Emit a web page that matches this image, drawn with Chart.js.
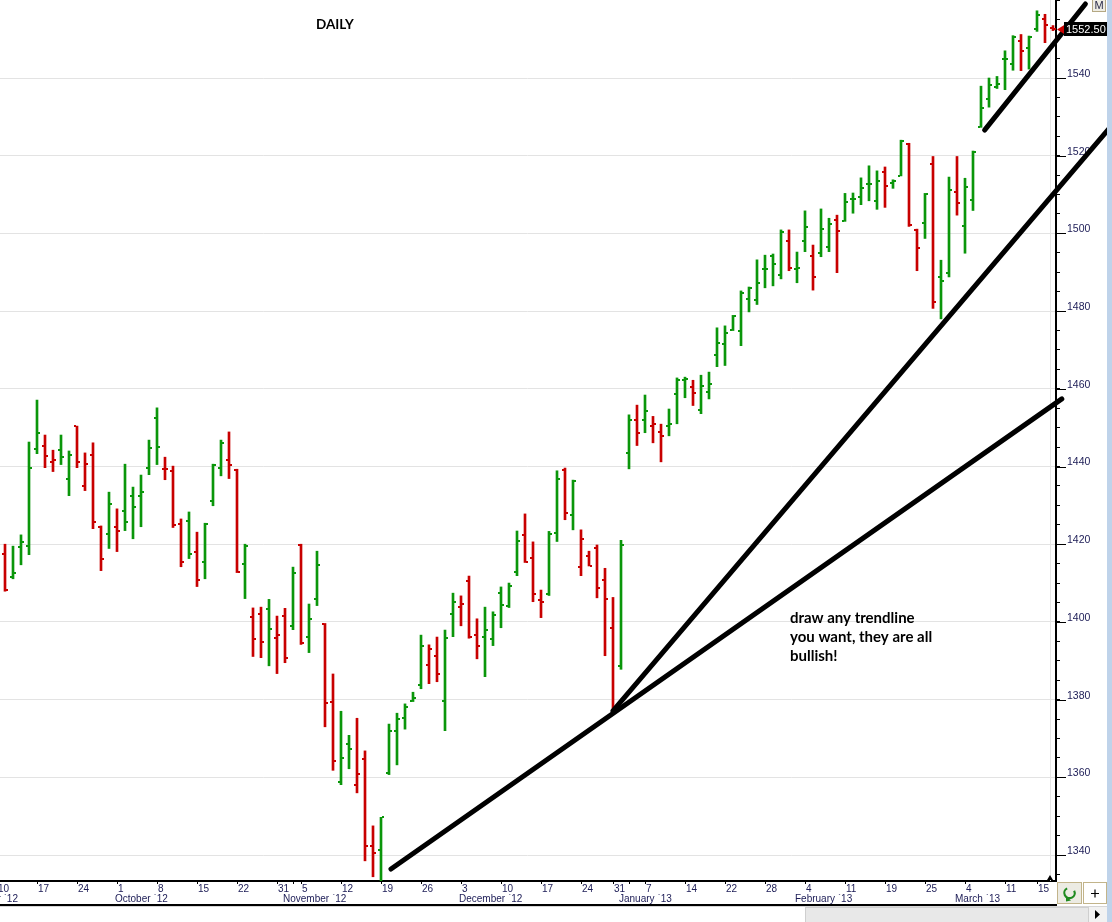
<!DOCTYPE html>
<html>
<head>
<meta charset="utf-8">
<script src="https://cdn.jsdelivr.net/npm/chart.js@4.4.1/dist/chart.umd.min.js"></script>
<style>
html,body{margin:0;padding:0;background:#fff;overflow:hidden}
#wrap{position:relative;width:1112px;height:922px}
</style>
</head>
<body>
<div id="wrap"><canvas id="c"></canvas></div>
<script>
// ---- Daily OHLC data (trading-day index 0 = first bar) ----
const opens = [1417.5,1411.6,1419.4,1419.6,1444.6,1445.4,1441.2,1444.2,1436.9,1450.3,
1435.1,1443.0,1424.4,1422.7,1424.5,1428.6,1432.4,1432.4,1439.7,1452.6,
1439.4,1438.9,1425.3,1426.1,1418.1,1415.5,1431.0,1439.7,1441.8,1439.2,
1415.0,1401.3,1402.1,1403.4,1395.9,1401.6,1399.0,1419.9,1396.2,1406.0,
1399.5,1379.4,1358.9,1368.6,1358.1,1364.8,1342.4,1341.4,1361.2,1371.9,
1375.3,1379.6,1383.8,1388.9,1391.2,1379.7,1402.0,1403.9,1410.6,1396.6,
1396.0,1395.7,1407.5,1404.0,1412.9,1422.4,1416.5,1405.7,1407.2,1423.0,
1439.2,1427.5,1414.2,1416.9,1419.1,1410.9,1398.5,1388.7,1443.6,1451.9,
1451.9,1450.3,1449.0,1450.3,1458.7,1462.2,1460.5,1454.6,1459.3,1468.8,
1471.6,1475.1,1475.0,1483.0,1482.9,1490.8,1494.2,1489.4,1498.1,1490.8,
1498.1,1494.3,1495.0,1496.6,1503.4,1503.3,1508.9,1509.3,1512.6,1508.3,
1515.7,1513.1,1514.8,1522.9,1500.9,1502.8,1517.8,1488.7,1489.8,1510.6,
1502.0,1508.7,1527.5,1534.7,1537.6,1544.8,1543.5,1549.4,1547.7,1552.6,
1555.1,1553.0];
const highs = [1420.0,1419.5,1422.4,1446.3,1457.1,1448.1,1444.2,1448.1,1444.0,1450.4,
1443.5,1446.1,1424.7,1433.4,1429.1,1440.6,1434.7,1437.8,1446.8,1455.1,
1442.4,1440.1,1426.5,1428.3,1423.1,1425.4,1440.6,1446.8,1448.9,1439.3,
1420.0,1403.6,1403.8,1405.8,1401.5,1403.5,1414.1,1420.0,1404.6,1418.2,
1399.6,1386.6,1377.0,1370.8,1375.2,1366.8,1347.5,1349.7,1373.7,1376.5,
1378.9,1381.9,1396.6,1394.1,1396.1,1397.9,1407.4,1406.7,1411.8,1400.8,
1403.8,1402.6,1409.0,1410.0,1423.4,1427.8,1420.6,1408.2,1423.3,1438.9,
1439.6,1436.5,1423.7,1418.2,1419.8,1413.8,1406.3,1421.0,1453.3,1455.8,
1458.4,1452.9,1450.9,1454.8,1462.8,1463.0,1462.2,1463.5,1464.3,1475.7,
1476.2,1478.9,1485.2,1486.2,1493.2,1494.4,1494.7,1500.9,1500.9,1495.2,
1505.8,1497.0,1506.3,1503.9,1504.7,1510.3,1510.4,1514.3,1517.4,1516.1,
1517.1,1513.8,1524.0,1523.2,1501.1,1510.3,1519.8,1493.1,1514.5,1519.8,
1514.2,1521.2,1537.9,1540.0,1540.4,1547.0,1550.9,1551.2,1550.8,1557.3,
1556.4,1553.5];
const lows = [1407.9,1411.1,1414.7,1417.3,1443.3,1439.7,1438.7,1440.5,1432.5,1439.7,
1433.8,1424.0,1413.2,1418.9,1418.1,1423.5,1421.4,1424.5,1437.9,1440.5,
1436.6,1424.3,1414.2,1416.3,1409.1,1411.1,1429.9,1437.6,1436.9,1412.7,
1406.0,1391.1,1390.8,1388.7,1386.7,1389.5,1398.0,1394.2,1392.1,1404.2,
1373.0,1361.8,1358.1,1362.2,1356.0,1338.5,1334.4,1332.0,1360.7,1363.2,
1372.4,1379.5,1382.8,1384.1,1384.6,1372.0,1396.2,1399.0,1395.8,1390.5,
1385.9,1393.9,1398.5,1403.7,1411.9,1415.3,1405.2,1401.1,1406.8,1420.7,
1426.3,1423.7,1411.9,1414.4,1406.2,1391.3,1377.3,1387.8,1439.4,1445.4,
1448.7,1446.1,1441.2,1447.9,1451.0,1457.7,1455.7,1453.6,1457.4,1465.7,
1466.0,1475.0,1471.1,1479.8,1481.7,1486.0,1486.5,1488.3,1490.4,1487.3,
1495.3,1485.4,1494.0,1495.3,1489.9,1503.1,1505.2,1507.4,1508.4,1506.2,
1506.7,1511.6,1514.8,1501.8,1490.4,1498.7,1480.7,1478.0,1488.8,1504.7,
1494.9,1505.9,1527.3,1532.5,1537.3,1537.0,1542.0,1541.9,1542.3,1552.0,
1549.1,1552.2];
const closes = [1408.2,1412.7,1420.6,1439.7,1448.5,1442.8,1441.8,1442.5,1443.0,1441.1,
1440.7,1425.8,1416.3,1430.4,1423.5,1425.8,1429.7,1433.5,1444.8,1444.9,
1439.3,1425.0,1415.3,1417.6,1410.9,1425.3,1440.3,1446.1,1440.4,1412.8,
1419.6,1395.5,1394.9,1398.1,1396.7,1390.8,1412.7,1394.6,1400.8,1414.7,
1379.0,1364.2,1365.0,1367.3,1360.9,1342.4,1340.5,1349.7,1372.0,1374.9,
1378.2,1380.5,1393.8,1392.9,1386.7,1395.9,1405.2,1404.6,1396.0,1393.8,
1397.8,1401.9,1404.4,1409.3,1420.9,1415.5,1407.3,1405.0,1422.7,1436.9,
1428.1,1436.2,1421.4,1414.5,1408.8,1406.0,1377.9,1419.8,1452.1,1448.7,
1454.2,1451.0,1447.9,1451.0,1462.2,1462.4,1459.0,1460.8,1461.2,1471.9,
1474.4,1478.7,1484.7,1486.0,1487.3,1490.8,1492.2,1500.4,1491.1,1491.2,
1501.7,1488.8,1501.2,1502.3,1500.6,1508.2,1508.9,1511.8,1512.6,1513.5,
1512.3,1513.6,1523.7,1502.1,1496.3,1510.2,1482.4,1487.8,1511.2,1507.8,
1512.0,1521.0,1532.4,1538.3,1538.5,1544.8,1550.6,1547.0,1550.5,1556.1,
1553.7,1552.5];

// ---- Axis labels ----
const dayTickIndex  = [-1,4,9,14,19,24,29,34,36,37,42,47,52,57,62,67,72,76,78,80,85,90,95,100,105,110,115,120,125,129];
const dayTickLabels = ['10','17','24','1','8','15','22','31','','5','12','19','26','3','10','17','24','31','','7','14','22','28','4','11','19','25','4','11','15'];
const monthIndex  = [-6.4,14,35,57,77,99,119];
const monthLabels = ['September `12','October `12','November `12','December `12','January `13','February `13','March `13'];
const priceLabels = [1340,1360,1380,1400,1420,1440,1460,1480,1500,1520,1540];
const lastPrice = 1552.50;
const titleText = 'DAILY';
const noteLines = ['draw any trendline','you want, they are all','bullish!'];

// ---- Hand-drawn trendlines (index, price) ----
const trendLow   = [{x:48.25,y:1336.4},{x:132.1,y:1457.4}];
const trendSteep = [{x:76.0,y:1377.1},{x:140.0,y:1531.8}];
const trendTop   = [{x:122.45,y:1526.6},{x:135.05,y:1559.05}];

// ---- ranges / styles ----
const X_MIN = -0.625, X_MAX = 131.375;
const Y_MIN = 1333.31, Y_MAX = 1560.08;
const GREEN = '#0a960a', RED = '#c80000';
const LABEL = '#1b1b55';
const FONT = "'Liberation Sans', Arial, sans-serif";

const barColors = closes.map((c,i) => (i === 0 ? c < opens[0] : c < closes[i-1]) ? RED : GREEN);

function tickImg(color, left){
  const cv = document.createElement('canvas');
  cv.width = 6; cv.height = 2;
  const g = cv.getContext('2d');
  g.fillStyle = color;
  g.fillRect(left ? 0 : 4, 0, 2, 2);
  return cv;
}
const imgs = {
  oG: tickImg(GREEN, true), oR: tickImg(RED, true),
  cG: tickImg(GREEN, false), cR: tickImg(RED, false)
};

const deco = {
  id: 'deco',
  beforeDraw(chart){
    const ctx = chart.ctx;
    ctx.save(); ctx.fillStyle = '#fff'; ctx.fillRect(0,0,chart.width,chart.height); ctx.restore();
  },
  beforeDatasetsDraw(chart){
    const ctx = chart.ctx, ca = chart.chartArea;
    ctx.save();
    ctx.strokeStyle = '#e6e6e6'; ctx.lineWidth = 1;
    ctx.beginPath(); ctx.moveTo(ca.right - 5.5, 0); ctx.lineTo(ca.right - 5.5, ca.bottom); ctx.stroke();
    ctx.restore();
  },
  afterDraw(chart){
    const ctx = chart.ctx, ca = chart.chartArea, ys = chart.scales.y;
    ctx.save();
    // major tick extensions on price axis
    ctx.strokeStyle = '#000'; ctx.lineWidth = 1;
    priceLabels.forEach(v => {
      const py = Math.round(ys.getPixelForValue(v)) + 0.5;
      ctx.beginPath(); ctx.moveTo(ca.right, py); ctx.lineTo(ca.right + 10, py); ctx.stroke();
    });
    // title
    ctx.fillStyle = '#000';
    ctx.font = "bold 13.5px Lato, 'Liberation Sans', sans-serif";
    ctx.textBaseline = 'alphabetic'; ctx.textAlign = 'left';
    ctx.fillText(titleText, 316, 29);
    // note
    ctx.font = "bold 15px Lato, 'Liberation Sans', sans-serif";
    noteLines.forEach((t,i) => ctx.fillText(t, 790, 623 + i*19));
    // bottom border of time axis
    ctx.fillStyle = '#000';
    ctx.fillRect(0, 904, 1057, 2);
    // scroll bar area
    ctx.fillStyle = '#fff'; ctx.fillRect(0, 906, 1107, 16);
    ctx.fillStyle = '#d6d6d6'; ctx.fillRect(0, 906, 1107, 1);
    ctx.fillStyle = '#e8e8e8'; ctx.fillRect(805, 907, 283, 15);
    ctx.strokeStyle = '#cfcfcf'; ctx.strokeRect(805.5, 907.5, 283, 15);
    ctx.fillStyle = '#f2f2f2'; ctx.fillRect(1089, 907, 18, 15);
    ctx.fillStyle = '#000';
    ctx.beginPath(); ctx.moveTo(1095, 910); ctx.lineTo(1100, 914.5); ctx.lineTo(1095, 919); ctx.closePath(); ctx.fill();
    // buttons bottom right
    ctx.fillStyle = '#ecebe3'; ctx.fillRect(1057, 882, 25, 22);
    ctx.strokeStyle = '#c2b48a'; ctx.lineWidth = 1; ctx.strokeRect(1057.5, 882.5, 24, 21);
    ctx.fillStyle = '#ffffff'; ctx.fillRect(1083, 882, 24, 22);
    ctx.strokeRect(1083.5, 882.5, 23, 21);
    ctx.strokeStyle = '#1f8a1f'; ctx.lineWidth = 2.2;
    ctx.beginPath(); ctx.arc(1069.5, 893, 5.2, -0.15*Math.PI, 1.35*Math.PI); ctx.stroke();
    ctx.fillStyle = '#1f8a1f';
    ctx.beginPath(); ctx.moveTo(1066, 896); ctx.lineTo(1071, 900.5); ctx.lineTo(1066, 901.5); ctx.closePath(); ctx.fill();
    ctx.strokeStyle = '#000'; ctx.lineWidth = 1.2;
    ctx.beginPath(); ctx.moveTo(1091, 893.5); ctx.lineTo(1099, 893.5); ctx.moveTo(1095, 889.5); ctx.lineTo(1095, 897.5); ctx.stroke();
    // current-bar marker on time axis
    ctx.fillStyle = '#000';
    ctx.beginPath(); ctx.moveTo(1047, 880); ctx.lineTo(1053, 880); ctx.lineTo(1050, 875); ctx.closePath(); ctx.fill();
    // right blue strip
    ctx.fillStyle = '#bfd3ea'; ctx.fillRect(1107, 0, 5, 922);
    // M button
    ctx.fillStyle = '#efede4'; ctx.fillRect(1092, 0, 14, 12);
    ctx.strokeStyle = '#b5a883'; ctx.lineWidth = 1; ctx.strokeRect(1092.5, -0.5, 13, 12);
    ctx.fillStyle = '#2a2a4a'; ctx.font = "11px " + FONT; ctx.textAlign = 'center'; ctx.textBaseline = 'middle';
    ctx.fillText('M', 1099, 6);
    // last price tag
    const py = ys.getPixelForValue(lastPrice);
    ctx.fillStyle = '#cc0000';
    ctx.beginPath(); ctx.moveTo(1057, py); ctx.lineTo(1065, py - 5); ctx.lineTo(1065, py + 5); ctx.closePath(); ctx.fill();
    ctx.fillStyle = '#000'; ctx.fillRect(1064, Math.round(py) - 7, 43, 14);
    ctx.fillStyle = '#fff'; ctx.font = "11px " + FONT; ctx.textAlign = 'left'; ctx.textBaseline = 'middle';
    ctx.fillText(lastPrice.toFixed(2), 1066, Math.round(py) + 0.5);
    ctx.restore();
  }
};

const lineDs = (data) => ({
  type: 'line', data, borderColor: '#000', backgroundColor: '#000', borderWidth: 5,
  borderCapStyle: 'round', pointRadius: 0, tension: 0, clip: false, order: 0
});

new Chart(document.getElementById('c'), {
  type: 'bar',
  data: {
    datasets: [
      lineDs(trendLow), lineDs(trendSteep), lineDs(trendTop),
      { type: 'scatter', data: opens.map((o,i) => ({x:i, y:o})), pointRadius: 3,
        pointStyle: (c) => barColors[c.dataIndex] === RED ? imgs.oR : imgs.oG, order: 1 },
      { type: 'scatter', data: closes.map((v,i) => ({x:i, y:v})), pointRadius: 3,
        pointStyle: (c) => barColors[c.dataIndex] === RED ? imgs.cR : imgs.cG, order: 1 },
      { type: 'bar', data: highs.map((h,i) => ({x:i, y:[lows[i], h]})),
        backgroundColor: barColors, barThickness: 2, borderWidth: 0, order: 2 }
    ]
  },
  options: {
    responsive: true, maintainAspectRatio: false, animation: false, events: [],
    layout: { autoPadding: false, padding: { left: 0, right: 0, top: 0, bottom: 17 } },
    plugins: { legend: { display: false }, tooltip: { enabled: false }, title: { display: false } },
    scales: {
      x: {
        type: 'linear', position: 'bottom', min: X_MIN, max: X_MAX, offset: false,
        grid: { display: true, drawOnChartArea: false, drawTicks: true, tickLength: 3, tickColor: '#000', offset: false },
        border: { display: true, color: '#000', width: 2 },
        afterBuildTicks: (s) => { s.ticks = dayTickIndex.map(v => ({ value: v })); },
        afterFit: (s) => { s.height = 13; s.paddingLeft = 0; s.paddingRight = 0; },
        ticks: { autoSkip: false, maxRotation: 0, minRotation: 0, align: 'start', labelOffset: 1, padding: 0,
          color: LABEL, font: { family: FONT, size: 10, lineHeight: 1 },
          callback: (v, i) => dayTickLabels[i] }
      },
      x2: {
        type: 'linear', position: 'bottom', min: X_MIN, max: X_MAX, offset: false,
        grid: { display: false, drawTicks: false, drawOnChartArea: false },
        border: { display: false },
        afterBuildTicks: (s) => { s.ticks = monthIndex.map(v => ({ value: v })); },
        afterFit: (s) => { s.height = 11; s.paddingLeft = 0; s.paddingRight = 0; },
        ticks: { autoSkip: false, maxRotation: 0, minRotation: 0, align: 'start', labelOffset: -2, padding: 0,
          color: LABEL, font: { family: FONT, size: 10, lineHeight: 1 },
          callback: (v, i) => monthLabels[i] }
      },
      y: {
        type: 'linear', position: 'right', min: Y_MIN, max: Y_MAX,
        grid: { drawOnChartArea: true, drawTicks: true, tickLength: 4, tickColor: '#000',
          color: (c) => (c.tick && priceLabels.includes(c.tick.value)) ? '#e3e3e3' : 'rgba(0,0,0,0)' },
        border: { display: true, color: '#000', width: 2 },
        afterFit: (s) => { s.width = 56; s.paddingTop = 0; s.paddingBottom = 0; },
        ticks: { stepSize: 5, includeBounds: false, autoSkip: false, padding: 7, labelOffset: -4,
          color: LABEL, font: { family: FONT, size: 10.5 },
          callback: (v) => priceLabels.includes(v) ? String(v) : '' }
      }
    }
  },
  plugins: [deco]
});
</script>
</body>
</html>
